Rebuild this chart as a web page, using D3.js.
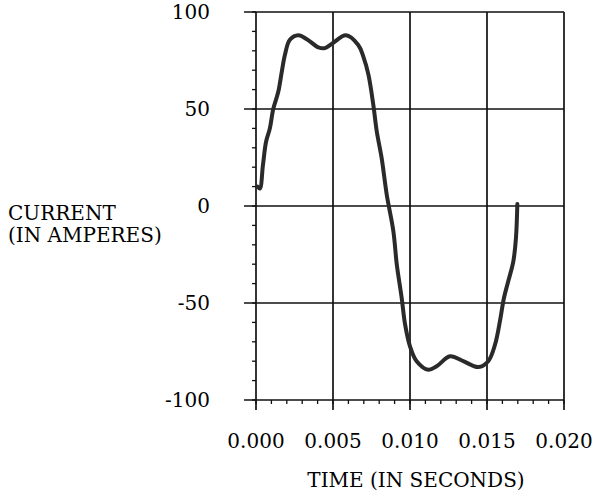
<!DOCTYPE html>
<html>
<head>
<meta charset="utf-8">
<script src="https://cdn.jsdelivr.net/npm/d3@7"></script>
<style>
  body { margin: 0; background: #fff; }
  text { font-family: "DejaVu Serif", serif; fill: #000; }
</style>
</head>
<body>
<svg id="chart" width="601" height="495"></svg>
<script>
// time in milliseconds, current in amperes
const timeMs = [0.1, 0.25, 0.45, 0.65, 0.9, 1.12, 1.45, 1.67, 1.88, 2.2, 2.75, 3.3, 4.05, 4.48, 5.0,
  5.84, 6.64, 6.97, 7.3, 7.62, 7.84, 8.16, 8.49, 8.92, 9.14, 9.46, 9.68, 10.0, 10.43, 11.2,
  11.73, 12.6, 13.46, 14.44, 15.08, 15.52, 15.84, 16.1, 16.38, 16.71, 16.88, 16.97];
const current = [10, 9, 21, 33, 40, 50, 59, 69, 78, 85.7, 88, 86, 81.8, 81.4, 84,
  88, 83, 77, 67.7, 52, 38.5, 24.7, 5.8, -13, -30, -47.4, -61, -72.3, -80, -84.4,
  -82.6, -77.5, -80, -83, -80, -71.5, -59.4, -47.4, -38.8, -28.5, -16.5, 1];

const xTicks = [0, 0.005, 0.010, 0.015, 0.020];
const yTicks = [-100, -50, 0, 50, 100];

const svg = d3.select("#chart");
const pLeft = 256, pRight = 564, pTop = 12, pBottom = 400;

const x = d3.scaleLinear().domain([0, 0.020]).range([pLeft, pRight]);
const y = d3.scaleLinear().domain([-100, 100]).range([pBottom, pTop]);

// minor ticks
const xMinor = d3.range(0, 0.0201, 0.001);
const yMinor = d3.range(-100, 100.1, 10);

svg.append("g").selectAll("line").data(xMinor).join("line")
  .attr("x1", d => x(d)).attr("x2", d => x(d))
  .attr("y1", pBottom).attr("y2", pBottom + 4)
  .attr("stroke", "#111").attr("stroke-width", 1.3);

svg.append("g").selectAll("line").data(yMinor).join("line")
  .attr("x1", pLeft - 4).attr("x2", pLeft)
  .attr("y1", d => y(d)).attr("y2", d => y(d))
  .attr("stroke", "#111").attr("stroke-width", 1.3);

// grid (major lines run past the axes a little)
svg.append("g").selectAll("line").data(xTicks).join("line")
  .attr("x1", d => x(d)).attr("x2", d => x(d))
  .attr("y1", pTop).attr("y2", pBottom + 10)
  .attr("stroke", "#111").attr("stroke-width", 1.7);

svg.append("g").selectAll("line").data(yTicks).join("line")
  .attr("x1", pLeft - 12).attr("x2", pRight)
  .attr("y1", d => y(d)).attr("y2", d => y(d))
  .attr("stroke", "#111").attr("stroke-width", 1.7);

// tick labels
svg.append("g").selectAll("text").data(yTicks).join("text")
  .attr("x", 210).attr("y", d => y(d) + 7)
  .attr("text-anchor", "end").attr("font-size", 20)
  .text(d => d);

svg.append("g").selectAll("text").data(xTicks).join("text")
  .attr("x", d => x(d)).attr("y", 448)
  .attr("text-anchor", "middle").attr("font-size", 20)
  .text(d => d.toFixed(3));

// axis titles
svg.append("text").attr("x", 416).attr("y", 487)
  .attr("text-anchor", "middle").attr("font-size", 20)
  .text("TIME (IN SECONDS)");

const yTitle = svg.append("text").attr("x", 8).attr("y", 220).attr("font-size", 20);
yTitle.append("tspan").attr("x", 8).text("CURRENT");
yTitle.append("tspan").attr("x", 8).attr("dy", 22).text("(IN AMPERES)");

// the trace
const pts = timeMs.map((t, i) => [t / 1000, current[i]]);
svg.append("path").datum(pts)
  .attr("fill", "none").attr("stroke", "#2a2a2a").attr("stroke-width", 4)
  .attr("stroke-linejoin", "round").attr("stroke-linecap", "round")
  .attr("d", d3.line().x(d => x(d[0])).y(d => y(d[1])).curve(d3.curveCatmullRom.alpha(0.5)));
</script>
</body>
</html>
